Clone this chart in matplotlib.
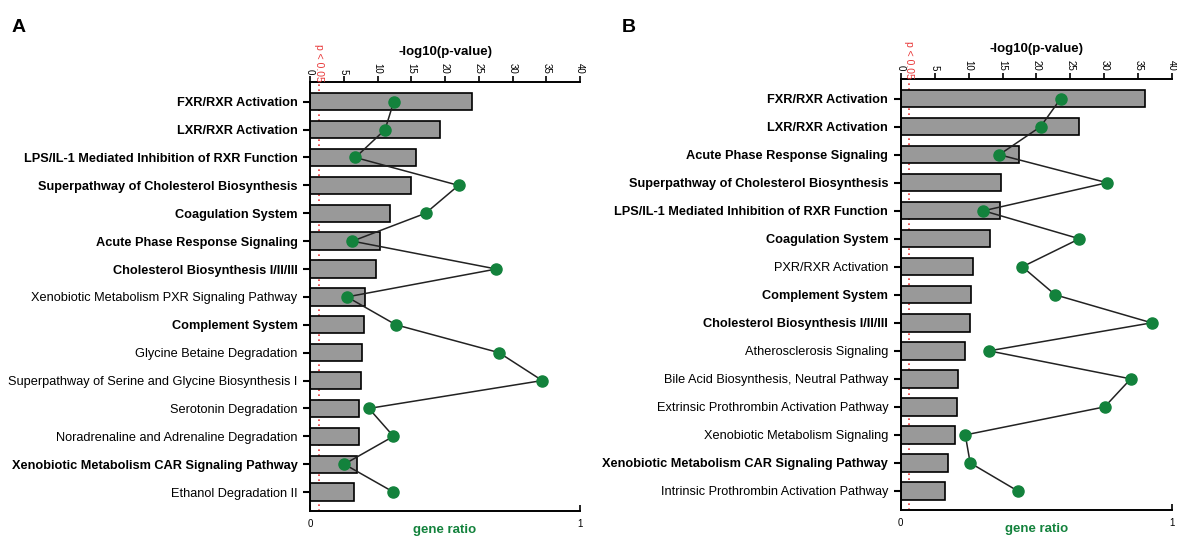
from matplotlib import pyplot as plt

plt.rcParams['font.family'] = ['Liberation Sans', 'DejaVu Sans']

# Panel A
a_terms = ["FXR/RXR Activation", "LXR/RXR Activation",
           "LPS/IL-1 Mediated Inhibition of RXR Function",
           "Superpathway of Cholesterol Biosynthesis", "Coagulation System",
           "Acute Phase Response Signaling", "Cholesterol Biosynthesis I/II/III",
           "Xenobiotic Metabolism PXR Signaling Pathway", "Complement System",
           "Glycine Betaine Degradation",
           "Superpathway of Serine and Glycine Biosynthesis I",
           "Serotonin Degradation", "Noradrenaline and Adrenaline Degradation",
           "Xenobiotic Metabolism CAR Signaling Pathway", "Ethanol Degradation II"]
a_bold = [1, 1, 1, 1, 1, 1, 1, 0, 1, 0, 0, 0, 0, 1, 0]
a_logp = [24.0, 19.3, 15.7, 15.0, 11.9, 10.4, 9.8, 8.1, 8.0, 7.7, 7.5, 7.3, 7.2, 7.0, 6.5]
a_ratio = [0.31, 0.278, 0.168, 0.55, 0.428, 0.157, 0.69, 0.137, 0.318, 0.70,
           0.86, 0.218, 0.309, 0.127, 0.309]

# Panel B
b_terms = ["FXR/RXR Activation", "LXR/RXR Activation",
           "Acute Phase Response Signaling",
           "Superpathway of Cholesterol Biosynthesis",
           "LPS/IL-1 Mediated Inhibition of RXR Function", "Coagulation System",
           "PXR/RXR Activation", "Complement System",
           "Cholesterol Biosynthesis I/II/III", "Atherosclerosis Signaling",
           "Bile Acid Biosynthesis, Neutral Pathway",
           "Extrinsic Prothrombin Activation Pathway",
           "Xenobiotic Metabolism Signaling",
           "Xenobiotic Metabolism CAR Signaling Pathway",
           "Intrinsic Prothrombin Activation Pathway"]
b_bold = [1, 1, 1, 1, 1, 1, 0, 1, 1, 0, 0, 0, 0, 1, 0]
b_logp = [36.0, 26.2, 17.5, 14.8, 14.6, 13.2, 10.6, 10.35, 10.2, 9.5, 8.5, 8.25, 8.0, 6.9, 6.6]
b_ratio = [0.589, 0.515, 0.363, 0.76, 0.305, 0.658, 0.448, 0.569, 0.924,
           0.325, 0.847, 0.751, 0.238, 0.256, 0.431]

GREEN = "#13823c"
RED = "#e8393a"


def draw_panel(fig, rect, terms, bold, logp, ratio, letter, letter_x):
    ax = fig.add_axes(rect)
    ax2 = ax.twiny()  # twiny resets ax ticks, so make it first
    n = len(terms)
    ypos = list(range(n))

    # bars: -log10(p) on the top axis
    ax.axvline(1.3, color=RED, linestyle=(0, (1, 2)), linewidth=1.2, zorder=1)
    ax.barh(ypos, logp, height=0.62, color="#999999", edgecolor="black",
            linewidth=1.2, zorder=2)
    ax.set_xlim(0, 40)
    ax.set_ylim(n - 0.32, -0.7)
    ax.xaxis.tick_top()
    ax.xaxis.set_label_position("top")
    ax.set_xticks(range(0, 41, 5))
    ax.tick_params(axis="x", labelsize=7, labelrotation=-90, width=1.2, length=4, pad=2)
    ax.set_xlabel("-log10(p-value)", fontsize=9.5, fontweight="bold", labelpad=6)
    ax.set_yticks(ypos)
    ax.set_yticklabels(terms, fontsize=9.2)
    for lab, b in zip(ax.get_yticklabels(), bold):
        if b:
            lab.set_fontweight("bold")
    ax.tick_params(axis="y", width=1.5, length=5, pad=4)
    for s in ["right", "bottom"]:
        ax.spines[s].set_visible(False)
    for s in ["top", "left"]:
        ax.spines[s].set_linewidth(1.4)
    ax.text(1.3, 1.0, "p < 0.05", transform=ax.get_xaxis_transform(),
            rotation=-90, color=RED, fontsize=7.5, ha="center", va="bottom")

    # gene ratio line on the bottom axis
    ax2.plot(ratio, ypos, color="#222222", linewidth=1.1, marker="o",
             markersize=8, markerfacecolor=GREEN, markeredgecolor=GREEN, zorder=3)
    ax2.set_xlim(0, 1)
    ax2.xaxis.tick_bottom()
    ax2.xaxis.set_label_position("bottom")
    ax2.set_xticks([0, 1])
    ax2.tick_params(axis="x", direction="in", labelsize=7, width=1.2, length=4, pad=6)
    ax2.set_xlabel("gene ratio", color=GREEN, fontsize=9.5, fontweight="bold", labelpad=-4)
    for s in ["right", "top", "left"]:
        ax2.spines[s].set_visible(False)
    ax2.spines["bottom"].set_linewidth(1.4)
    ax2.set_ylim(ax.get_ylim())
    fig.text(letter_x, 0.965, letter, fontsize=14, fontweight="bold", va="top")


fig = plt.figure(figsize=(11.77, 5.36), dpi=100)
draw_panel(fig, [0.2634, 0.0466, 0.2294, 0.800], a_terms, a_bold, a_logp, a_ratio, "A", 0.010)
draw_panel(fig, [0.7652, 0.0485, 0.2308, 0.804], b_terms, b_bold, b_logp, b_ratio, "B", 0.528)
fig.savefig("out.png", dpi=100)
